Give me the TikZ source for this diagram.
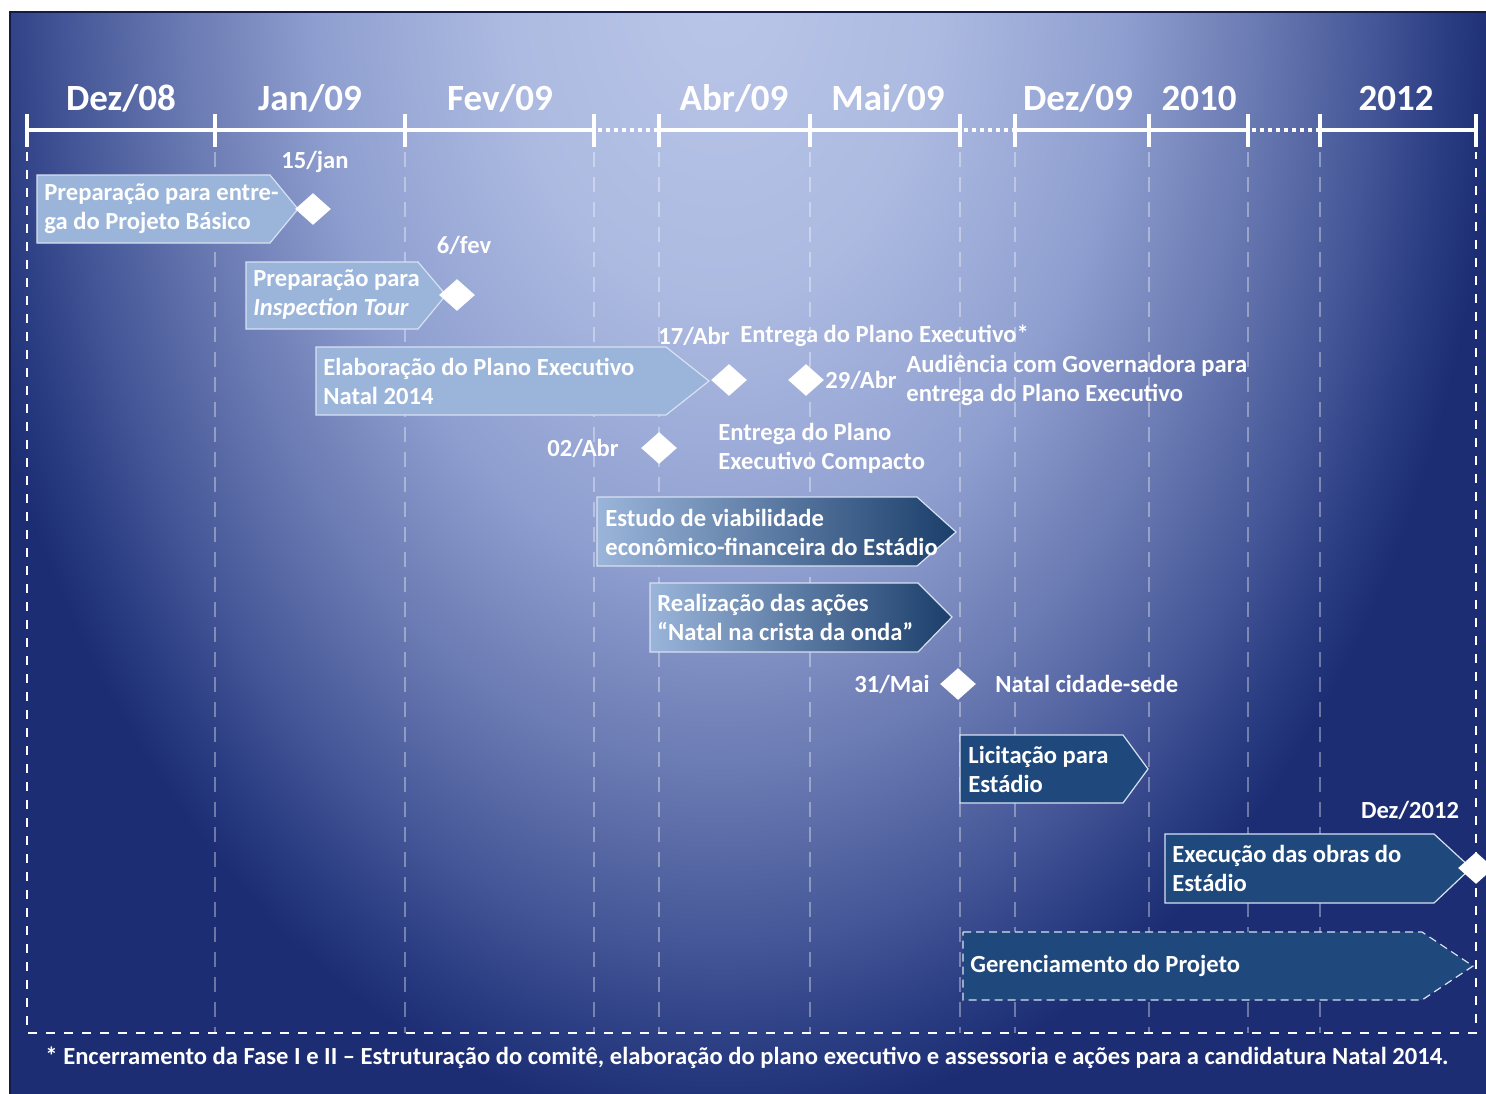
\documentclass[tikz,border=0pt]{standalone}
\usepackage{fontspec}
\setmainfont{Carlito}
\usetikzlibrary{shapes.geometric}
\definecolor{boxlight}{RGB}{155,181,218}
\definecolor{boxdark}{RGB}{31,73,125}
\definecolor{boxline}{RGB}{215,225,242}
\definecolor{bgA}{RGB}{186,198,232}
\definecolor{bgB}{RGB}{172,186,225}
\definecolor{bgC}{RGB}{142,158,207}
\definecolor{bgD}{RGB}{108,124,180}
\definecolor{bgE}{RGB}{68,86,151}
\definecolor{bgF}{RGB}{36,54,124}
\definecolor{bgG}{RGB}{28,45,115}
\definecolor{bgedge}{RGB}{20,28,70}
\pgfdeclareradialshading{bgglow}{\pgfpoint{0bp}{0bp}}{color(0bp)=(bgA); color(7bp)=(bgB); color(13bp)=(bgC); color(17bp)=(bgD); color(21bp)=(bgE); color(24bp)=(bgF); color(25bp)=(bgG); color(50bp)=(bgG)}

\begin{document}
\begin{tikzpicture}[x=0.5pt, y=-0.5pt,
		every node/.style={text=white, font=\bfseries\fontsize{12.3}{14.5}\selectfont},
		month/.style={anchor=base, font=\bfseries\fontsize{18.5}{20}\selectfont},
		note/.style={anchor=west, align=left, inner sep=0pt},
		mark node/.style={shape=diamond, fill=white, minimum width=18pt, minimum height=16pt, inner sep=0pt},
		axisline/.style={white, line width=2pt},
		axisdots/.style={white, line width=2pt, dash pattern=on 2pt off 2pt},
		tickline/.style={white, line width=2pt},
		gridline/.style={white, opacity=0.35, line width=1pt, dash pattern=on 7.5pt off 5pt},
		frameline/.style={white, line width=1.3pt, dash pattern=on 4.5pt off 4.5pt},
		phase/.style={draw=boxline, line width=0.6pt, fill=boxlight},
		phasefade/.style={draw=boxline, line width=0.6pt, left color=boxlight, right color=boxdark!85!black},
		phasedark/.style={draw=boxline, line width=0.6pt, fill=boxdark},
	]
		\useasboundingbox (0,0) rectangle (1486,1093);
		% background
		\fill[bgG] (10,12) rectangle (1500,1110);
		\begin{scope}
			\clip (10,12) rectangle (1500,1110);
			\shade[shading=bgglow] (720,-20) ellipse [x radius=390pt, y radius=575pt];
		\end{scope}
		\draw[bgedge, line width=0.8pt] (10,1110) -- (10,12) -- (1500,12);
		
		% time axis
		\foreach \x in {215,405,594,659,810,960,1015,1149,1248,1320}
			\draw[gridline] (\x,152) -- (\x,1033);
		\draw[frameline] (27,152) -- (27,1033) -- (1476,1033) -- (1476,152);
		\draw[axisline] (27,130) -- (594,130) (659,130) -- (960,130) (1015,130) -- (1248,130) (1320,130) -- (1476,130);
		\draw[axisdots] (598,130) -- (659,130) (964,130) -- (1015,130) (1252,130) -- (1320,130);
		\foreach \x in {27,215,405,594,659,810,960,1015,1149,1248,1320,1476}
			\draw[tickline] (\x,114) -- (\x,147);
		
		\node[month] (dez08) at (121,110) {Dez/08};
		\node[month] (jan09) at (310,110) {Jan/09};
		\node[month] (fev09) at (500,110) {Fev/09};
		\node[month] (abr09) at (734,110) {Abr/09};
		\node[month] (mai09) at (888,110) {Mai/09};
		\node[month] (dez09) at (1078,110) {Dez/09};
		\node[month] (y2010) at (1199,110) {2010};
		\node[month] (y2012) at (1396,110) {2012};
		
		% phases
		\draw[phase] (37,175) -- (270,175) -- (298,209) -- (270,243) -- (37,243) -- cycle;
		\node[note] (basico) at (44,209) {Preparação para entre-\\ga do Projeto Básico};
		\draw[phase] (246,262) -- (418,262) -- (446,295) -- (418,329) -- (246,329) -- cycle;
		\node[note] (inspection) at (253,295) {Preparação para\\\itshape Inspection Tour};
		\draw[phase] (316,347) -- (666,347) -- (709,381) -- (666,415) -- (316,415) -- cycle;
		\node[note] (elaboracao) at (323,381) {Elaboração do Plano Executivo\\Natal 2014};
		\draw[phasefade] (597,497) -- (917,497) -- (956,532) -- (917,566) -- (597,566) -- cycle;
		\node[note] (viabilidade) at (605,532) {Estudo de viabilidade\\econômico-financeira do Estádio};
		\draw[phasefade] (650,583) -- (918,583) -- (952,617) -- (918,652) -- (650,652) -- cycle;
		\node[note] (acoes) at (657,617) {Realização das ações\\“Natal na crista da onda”};
		\draw[phasedark] (960,735) -- (1123,735) -- (1148,769) -- (1123,803) -- (960,803) -- cycle;
		\node[note] (licitacao) at (968,769) {Licitação para\\Estádio};
		\draw[phasedark] (1165,834) -- (1434,834) -- (1471,868) -- (1434,903) -- (1165,903) -- cycle;
		\node[note] (obras) at (1172,868) {Execução das obras do\\Estádio};
		\draw[phasedark, dash pattern=on 4pt off 2.5pt] (963,932) -- (1422,932) -- (1473,966) -- (1422,1000) -- (963,1000) -- cycle;
		\node[note] (gerencia) at (970,966) {Gerenciamento do Projeto};
		
		% milestones
		\node[mark node] (m15jan) at (313,209) {};
		\node (d15jan) at (315,162) {15/jan};
		\node[mark node] (m6fev) at (457,295) {};
		\node (d6fev) at (464,245) {6/fev};
		\node[mark node] (m17abr) at (729,380) {};
		\node (d17abr) at (694,336) {17/Abr};
		\node[note] (t17abr) at (740,336) {Entrega do Plano Executivo*};
		\node[mark node] (m29abr) at (806,380) {};
		\node[note] (d29abr) at (825,380) {29/Abr};
		\node[note] (t29abr) at (906,380) {Audiência com Governadora para\\entrega do Plano Executivo};
		\node[mark node] (m02abr) at (659,448) {};
		\node (d02abr) at (583,448) {02/Abr};
		\node[note] (t02abr) at (718,448) {Entrega do Plano\\Executivo Compacto};
		\node[mark node] (m31mai) at (958,684) {};
		\node (d31mai) at (892,684) {31/Mai};
		\node[note] (t31mai) at (995,684) {Natal cidade-sede};
		\node[mark node] (mdez12) at (1476,868) {};
		\node (ddez12) at (1410,810) {Dez/2012};
		
		\node (footnote) at (747,1058) {* Encerramento da Fase I e II – Estruturação do comitê, elaboração do plano executivo e assessoria e ações para a candidatura Natal 2014.};
	\end{tikzpicture}
\end{document}
